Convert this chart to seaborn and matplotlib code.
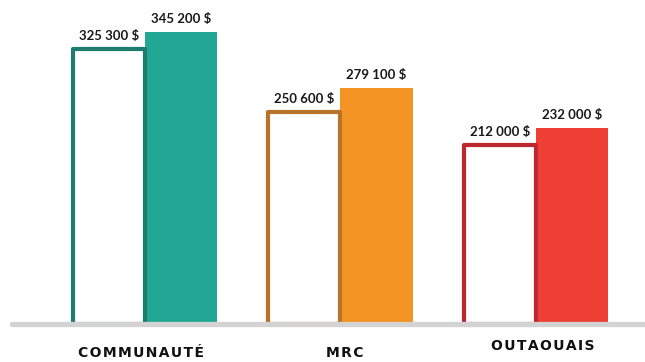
import matplotlib
matplotlib.use("Agg")
import matplotlib.pyplot as plt
import seaborn as sns
import pandas as pd

# Data
regions = ["COMMUNAUTÉ", "MRC", "OUTAOUAIS"]
series = ["Avant", "Après"]
values_before = [325300, 250600, 212000]
values_after = [345200, 279100, 232000]

fill_colors = ["#22A795", "#F49425", "#EE3F35"]
edge_colors = ["#1F7B6E", "#B8722A", "#BF272E"]

df = pd.DataFrame({
    "region": regions * 2,
    "serie": [series[0]] * 3 + [series[1]] * 3,
    "valeur": values_before + values_after,
})

sns.set_theme(style="white")
plt.rcParams["font.family"] = ["Lato", "DejaVu Sans"]

fig = plt.figure(figsize=(6.45, 3.62), dpi=100)
ax = fig.add_axes([0, 0, 1, 1])

sns.barplot(data=df, x="region", y="valeur", hue="serie", order=regions,
            hue_order=series, width=0.737, ax=ax, legend=False,
            errorbar=None, dodge=True)

bars = [p for p in ax.patches if p.get_height() > 0]
# first three are "Avant" bars, next three "Après"
for i, p in enumerate(bars[:3]):
    p.set_facecolor("white")
    p.set_edgecolor(edge_colors[i])
    p.set_linewidth(3.0)
    p.set_joinstyle("round")
    p.set_zorder(3)
for i, p in enumerate(bars[3:]):
    p.set_facecolor(fill_colors[i])
    p.set_edgecolor("none")
    p.set_zorder(2)

# value labels above each bar
for p, v in zip(bars, values_before + values_after):
    txt = f"{v:,.0f}".replace(",", " ") + " $"
    ax.annotate(txt, (p.get_x() + p.get_width() / 2, p.get_height()),
                xytext=(0, 5), textcoords="offset points",
                ha="center", va="bottom", fontsize=9.5, fontweight="bold",
                color="#1a1a1a", zorder=5)

# baseline
ax.axhline(0, xmin=12 / 645, xmax=1, color="#D3D3D3", lw=3.8, zorder=4)

ax.set_xlim(-0.742, 2.558)
ax.set_ylim(-44920, 383000)
ax.axis("off")

# category labels with letter spacing
label_y = [-34000, -34000, -25500]
label_dx = [-0.02, 0.02, 0.035]
for i, (name, ly) in enumerate(zip(regions, label_y)):
    spaced = "\u200a".join(name)
    ax.text(i + label_dx[i], ly, spaced, ha="center", va="center",
            fontsize=10, fontweight="bold", color="#111111",
            family=["DejaVu Sans"])

fig.savefig("out.png", dpi=100)
